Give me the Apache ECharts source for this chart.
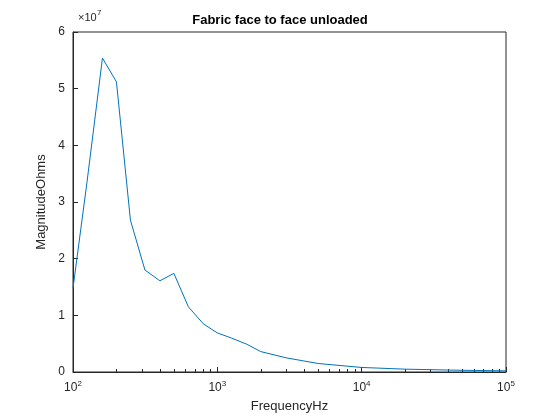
<!DOCTYPE html>
<html><head><meta charset="utf-8">
<script src="https://cdn.jsdelivr.net/npm/echarts@6/dist/echarts.min.js"></script>
<style>body{margin:0;background:#fff}#main{width:560px;height:420px}</style>
</head><body><div id="main"></div>
<script>
// frequency (Hz) and magnitude (Ohms)
var freqHz = [100, 125, 160, 200, 250, 315, 400, 500, 630, 800, 1000, 1250, 1600, 2000, 3000, 5000, 10000, 20000, 50000, 100000];
var magOhms = [1.48e7, 3.35e7, 5.54e7, 5.12e7, 2.68e7, 1.8e7, 1.61e7, 1.74e7, 1.15e7, 0.85e7, 0.69e7, 0.6e7, 0.49e7, 0.36e7, 0.25e7, 0.15e7, 0.08e7, 0.05e7, 0.03e7, 0.02e7];
var yTicks = [0, 1, 2, 3, 4, 5, 6];

var chart = echarts.init(document.getElementById('main'));
var font = 'Helvetica, Arial, "Liberation Sans", sans-serif';
var pts = freqHz.map(function (f, i) { return [f, magOhms[i]]; });
chart.setOption({
    animation: false,
    title: { text: 'Fabric face to face unloaded', left: 'center', top: 9,
        textStyle: { fontSize: 13, fontWeight: 'bold', color: '#000', fontFamily: font } },
    grid: { left: 73, right: 54, top: 32, bottom: 48, show: true, borderColor: '#262626', borderWidth: 1 },
    graphic: [{ type: 'text', left: 78, top: 12, style: { text: '×10', fontSize: 11, fill: '#262626', fontFamily: font } },
              { type: 'text', left: 97, top: 9, style: { text: '7', fontSize: 8, fill: '#262626', fontFamily: font } }],
    xAxis: {
        type: 'log', logBase: 10, min: 100, max: 100000,
        name: 'FrequencyHz', nameLocation: 'middle', nameGap: 28,
        nameTextStyle: { fontSize: 13, color: '#262626', fontFamily: font },
        axisLine: { lineStyle: { color: '#262626' } },
        axisTick: { inside: true, length: 5, lineStyle: { color: '#262626' } },
        minorTick: { show: true, splitNumber: 9, length: 3, lineStyle: { color: '#262626' } },
        splitLine: { show: false },
        axisLabel: { color: '#262626', fontSize: 12, fontFamily: font,
            formatter: function (v) { var e = Math.round(Math.log10(v)); return '10{s|' + e + '}'; },
            rich: { s: { fontSize: 8, verticalAlign: 'top', padding: [0, 0, 8, 0] } } }
    },
    yAxis: {
        type: 'value', min: 0, max: 6e7, interval: 1e7,
        name: 'MagnitudeOhms', nameLocation: 'middle', nameGap: 17,
        nameTextStyle: { fontSize: 13, color: '#262626', fontFamily: font },
        axisLine: { show: true, lineStyle: { color: '#262626' } },
        axisTick: { inside: true, length: 5, lineStyle: { color: '#262626' } },
        splitLine: { show: false },
        axisLabel: { color: '#262626', fontSize: 12, fontFamily: font, margin: 8,
            formatter: function (v) { return String(yTicks[Math.round(v / 1e7)]); } }
    },
    series: [{ type: 'line', data: pts, showSymbol: false,
        lineStyle: { color: '#0072bd', width: 1 } }]
});
</script></body></html>
